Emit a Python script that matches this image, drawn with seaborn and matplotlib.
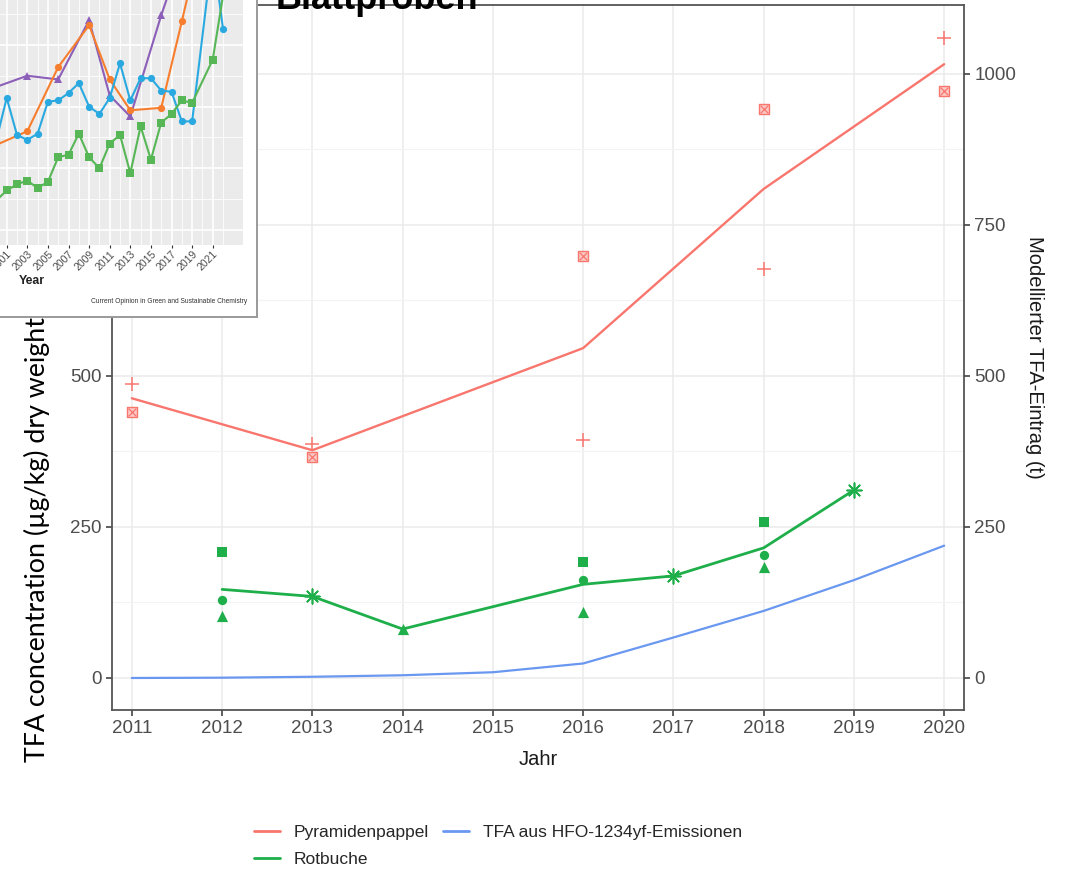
import numpy as np
import pandas as pd
import matplotlib
matplotlib.use("Agg")
import matplotlib.pyplot as plt
from matplotlib.lines import Line2D
import seaborn as sns

# ---------------- main chart data ----------------
pappel_years = [2011, 2013, 2016, 2018, 2020]
pappel_plus = [486, 388, 394, 677, 1060]      # site marked "+"
pappel_sqx = [440, 366, 698, 942, 972]        # site marked square-cross

buche_sq_years = [2012, 2016, 2018]
buche_sq = [209, 192, 259]
buche_circ_years = [2012, 2016, 2018]
buche_circ = [129, 163, 204]
buche_tri_years = [2012, 2014, 2016, 2018]
buche_tri = [102, 81, 110, 183]
buche_ast_years = [2013, 2017, 2019]
buche_ast = [135, 169, 311]

hfo_years = [2011, 2012, 2013, 2014, 2015, 2016, 2017, 2018, 2019, 2020]
hfo_tfa = [0, 0.5, 2, 4.5, 9.5, 24, 67, 111, 162, 219]

x_ticks = list(range(2011, 2021))
y_ticks = [0, 250, 500, 750, 1000]
legend_labels = ["Pyramidenpappel", "TFA aus HFO-1234yf-Emissionen", "Rotbuche"]

# ---------------- inset data ----------------
inset_blue_years = list(range(2000, 2020)) + [2021, 2022]
inset_blue = [73, 107, 77, 73, 78, 104, 105, 111, 119, 100, 94, 107, 135, 105,
              123, 123, 113, 112, 88, 88, 226, 163]
inset_green_years = list(range(2000, 2020)) + [2021, 2022]
inset_green = [24, 32, 37, 40, 34, 39, 59, 61, 78, 59, 50, 70, 77, 46, 84, 57,
               87, 94, 105, 103, 138, 190]
inset_orange_years = [2000, 2003, 2006, 2009, 2011, 2013, 2016, 2018, 2019]
inset_orange = [69, 80, 132, 166, 122, 97, 99, 169, 205]
inset_purple_years = [2000, 2003, 2006, 2009, 2011, 2013, 2016, 2018]
inset_purple = [116, 125, 122, 170, 109, 92, 174, 223]
inset_ticks = list(range(2001, 2022, 2))

# ---------------- style ----------------
sns.set_theme(style="white")
plt.rcParams["font.family"] = ["Liberation Sans", "DejaVu Sans"]

RED = "#F8766D"
GREEN = "#1FAF4A"
BLUE = "#6A98F0"
GRID = "#EBEBEB"

W, H = 1071, 881
fig = plt.figure(figsize=(W / 100, H / 100), dpi=100)

def fx(px):
    return px / W

def fy(py):
    return 1 - py / H

L, R, T, B = 112, 964, 5, 710
ax = fig.add_axes([fx(L), fy(B), fx(R - L), (B - T) / H])
ax.set_facecolor("white")

# lines (mean per year, computed by seaborn)
pap_df = pd.DataFrame({"Jahr": pappel_years * 2, "v": pappel_plus + pappel_sqx})
bu_df = pd.DataFrame({
    "Jahr": buche_sq_years + buche_circ_years + buche_tri_years + buche_ast_years,
    "v": buche_sq + buche_circ + buche_tri + buche_ast})
hfo_df = pd.DataFrame({"Jahr": hfo_years, "v": hfo_tfa})

sns.lineplot(data=pap_df, x="Jahr", y="v", estimator="mean", errorbar=None,
             color=RED, lw=1.7, ax=ax, zorder=3)
sns.lineplot(data=bu_df, x="Jahr", y="v", estimator="mean", errorbar=None,
             color=GREEN, lw=2.0, ax=ax, zorder=3)
sns.lineplot(data=hfo_df, x="Jahr", y="v", errorbar=None,
             color=BLUE, lw=1.6, ax=ax, zorder=3)

# points
ax.scatter(pappel_years, pappel_plus, marker="+", s=110, color=RED, lw=1.1, zorder=4)
ax.scatter(pappel_years, pappel_sqx, marker="s", s=48, facecolor="#FBC9C5",
           edgecolor=RED, lw=1.0, zorder=4)
ax.scatter(pappel_years, pappel_sqx, marker="x", s=30, color=RED, lw=0.9, zorder=5)
ax.scatter(buche_sq_years, buche_sq, marker="s", s=50, color=GREEN, lw=0, zorder=4)
ax.scatter(buche_circ_years, buche_circ, marker="o", s=45, color=GREEN, lw=0, zorder=4)
ax.scatter(buche_tri_years, buche_tri, marker="^", s=65, color=GREEN, lw=0, zorder=4)
ax.scatter(buche_ast_years, buche_ast, marker=(8, 2, 0), s=110, color=GREEN, lw=1.2, zorder=4)

ax.set_xlim(2010.78, 2020.22)
ax.set_ylim(-53, 1114)
ax.set_xticks(x_ticks)
ax.set_yticks(y_ticks)
ax.set_yticks([125, 375, 625, 875], minor=True)
ax.grid(True, which="major", color=GRID, lw=1.1)
ax.grid(True, which="minor", axis="y", color="#F3F3F3", lw=0.8)
ax.set_axisbelow(True)
for s in ax.spines.values():
    s.set_visible(True)
    s.set_color("#555555")
    s.set_linewidth(1.3)
ax.tick_params(axis="both", which="major", direction="out", length=4.5, width=1.2,
               color="#444444", labelcolor="#4D4D4D", labelsize=13.5, pad=3,
               bottom=True, left=True)
ax.tick_params(which="minor", length=0)
ax.set_xlabel("Jahr", fontsize=14.5, color="#1A1A1A", labelpad=9)
ax.set_ylabel("")

ax2 = ax.twinx()
ax2.set_ylim(ax.get_ylim())
ax2.set_yticks(y_ticks)
ax2.tick_params(axis="y", direction="out", length=4.5, width=1.2, color="#444444",
                labelcolor="#4D4D4D", labelsize=13.5, pad=3, right=True)
for s in ax2.spines.values():
    s.set_visible(False)
ax2.set_ylabel("Modellierter TFA-Eintrag (t)", rotation=-90, fontsize=14.5,
               color="#1A1A1A", labelpad=20)

# legend
handles = [Line2D([], [], color=RED, lw=2), Line2D([], [], color=GREEN, lw=2),
           Line2D([], [], color=BLUE, lw=2)]
labels = [legend_labels[0], legend_labels[2], legend_labels[1]]
fig.legend(handles, labels, ncol=2, loc="center", bbox_to_anchor=(fx(498), fy(846)),
           frameon=False, fontsize=12.5, handlelength=1.5, handletextpad=0.8,
           columnspacing=0.8, labelspacing=0.65, borderpad=0)

# title fragment and overlay y label
fig.text(fx(276), fy(9), "Blattproben", fontsize=26, fontweight="bold",
         color="black", ha="left", va="baseline", zorder=20)
fig.text(fx(37), fy(540), "TFA concentration (\u00b5g/kg) dry weight", rotation=90,
         fontsize=19.3, family=["Lato", "DejaVu Sans"], color="black",
         ha="center", va="center", zorder=20)

# ---------------- inset (pasted figure) ----------------
bg = fig.add_axes([0, fy(317), fx(257), 317 / H], zorder=10)
bg.set_facecolor("white")
bg.set_xticks([])
bg.set_yticks([])
for k, s in bg.spines.items():
    s.set_visible(k in ("right", "bottom"))
    s.set_color("#9A9A9A")
    s.set_linewidth(1.4)

pan = fig.add_axes([0, fy(245), fx(243), 245 / H], zorder=11)
pan.set_facecolor("#EBEBEB")
for s in pan.spines.values():
    s.set_visible(False)
series = [
    (inset_purple_years, inset_purple, "#8C5FB8", "^"),
    (inset_orange_years, inset_orange, "#F67E2E", "o"),
    (inset_blue_years, inset_blue, "#2AA9E0", "o"),
    (inset_green_years, inset_green, "#57B656", "s"),
]
for yrs, vals, col, mk in series:
    sns.lineplot(x=yrs, y=vals, ax=pan, color=col, lw=1.5, marker=mk,
                 markersize=5.2, markeredgewidth=0, errorbar=None)
pan.set_xlim(2000.35, 2023.94)
pan.set_ylim(-12.2, 186.4)
pan.set_xticks(inset_ticks)
pan.set_xticks([y + 1 for y in inset_ticks], minor=True)
pan.set_yticks([0, 50, 100, 150])
pan.set_yticks([25, 75, 125, 175], minor=True)
pan.grid(True, which="major", color="white", lw=1.2)
pan.grid(True, which="minor", color="white", lw=0.6)
pan.set_axisbelow(True)
pan.tick_params(axis="y", left=False, labelleft=False, which="both")
pan.tick_params(axis="x", which="major", bottom=True, length=2, width=0.8,
                color="#333333", labelsize=7.6, labelcolor="#4D4D4D", pad=1)
pan.tick_params(axis="x", which="minor", bottom=False)
for lab in pan.get_xticklabels():
    lab.set_rotation(45)
    lab.set_ha("right")
    lab.set_rotation_mode("anchor")
pan.set_xlabel("")
pan.set_ylabel("")

fig.text(fx(32), fy(281), "Year", fontsize=8.8, fontweight="bold", color="#222222",
         ha="center", va="center", zorder=20)
fig.text(fx(247), fy(302), "Current Opinion in Green and Sustainable Chemistry",
         fontsize=4.8, color="#333333", ha="right", va="center", zorder=20)

fig.savefig("out.png", dpi=100)
